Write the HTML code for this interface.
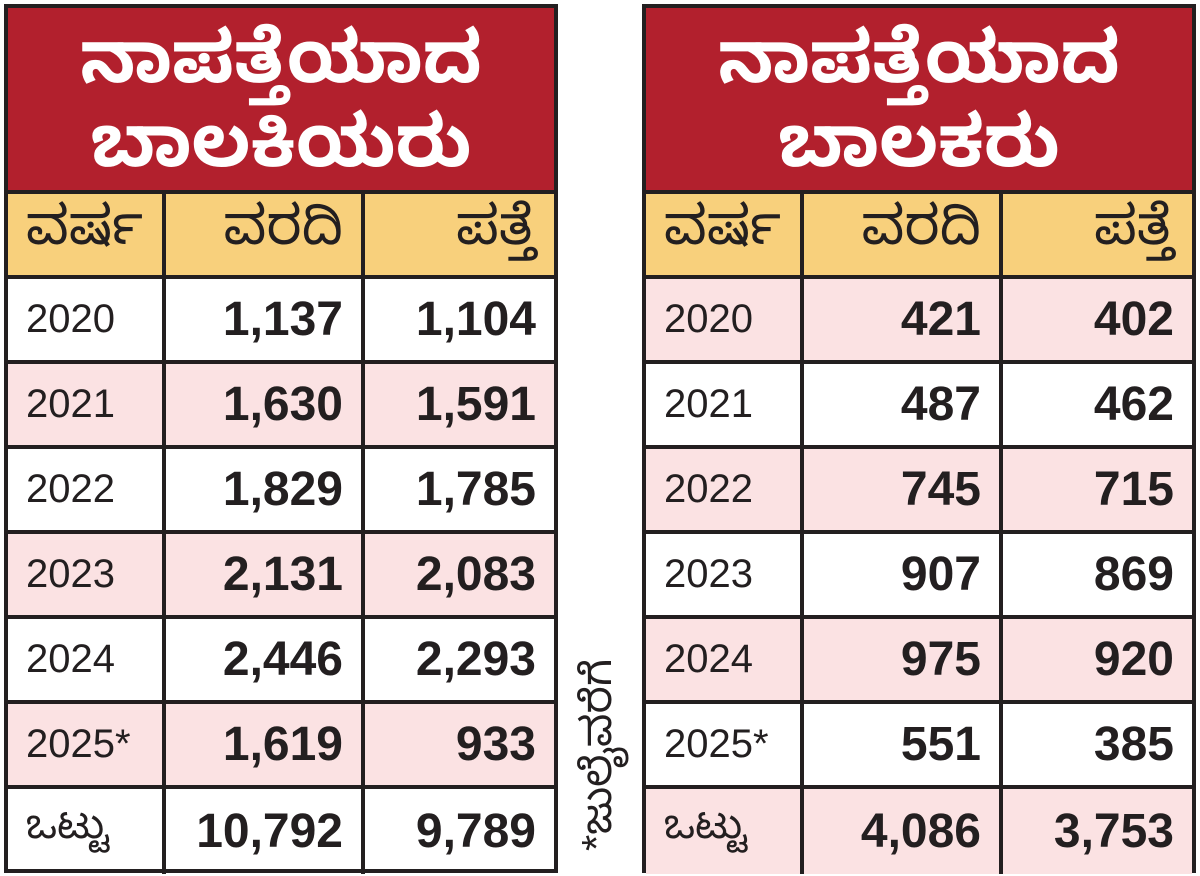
<!DOCTYPE html>
<html><head><meta charset="utf-8"><style>
body{margin:0;width:1200px;height:876px;background:#fff;position:relative;overflow:hidden;font-family:"Liberation Sans","Noto Sans Kannada",sans-serif}
.t{position:absolute;top:4px;border:4px solid #231f20;box-sizing:border-box;height:869px}
.title{height:186px;background:#b2202d;color:#fff;font-size:72px;font-weight:bold;text-align:center;line-height:84px;padding-top:8px;box-sizing:border-box;border-bottom:4px solid #231f20}
.row{display:flex;height:85px;border-bottom:4px solid #231f20;box-sizing:border-box}
.row:last-child{border-bottom:none}
.row div{box-sizing:border-box;border-right:4px solid #231f20;display:flex;align-items:center;font-size:48px;font-weight:bold;color:#231f20;justify-content:flex-end;padding-right:18px}
.row div:last-child{border-right:none}
.row div:first-child{justify-content:flex-start;padding-left:18px;font-weight:normal;font-size:40px}
.h{background:#f8d07c}.h div{font-weight:normal!important;font-size:54px!important}
.p{background:#fbe2e3}
.c1{width:158px}.c2{width:199px}.c3{flex:1}
.note{position:absolute;left:563px;top:640px;width:80px;height:230px;font-size:42px;color:#231f20;transform:rotate(-90deg);transform-origin:center;white-space:nowrap;display:flex;align-items:center;justify-content:center}
</style></head><body>
<div class="t" style="left:4px;width:554px">
<div class="title">ನಾಪತ್ತೆಯಾದ<br>ಬಾಲಕಿಯರು</div>
<div class="row h"><div class="c1">ವರ್ಷ</div><div class="c2">ವರದಿ</div><div class="c3">ಪತ್ತೆ</div></div>
<div class="row"><div class="c1">2020</div><div class="c2">1,137</div><div class="c3">1,104</div></div>
<div class="row p"><div class="c1">2021</div><div class="c2">1,630</div><div class="c3">1,591</div></div>
<div class="row"><div class="c1">2022</div><div class="c2">1,829</div><div class="c3">1,785</div></div>
<div class="row p"><div class="c1">2023</div><div class="c2">2,131</div><div class="c3">2,083</div></div>
<div class="row"><div class="c1">2024</div><div class="c2">2,446</div><div class="c3">2,293</div></div>
<div class="row p"><div class="c1">2025*</div><div class="c2">1,619</div><div class="c3">933</div></div>
<div class="row"><div class="c1">ಒಟ್ಟು</div><div class="c2">10,792</div><div class="c3">9,789</div></div>
</div>
<div class="note">*ಜುಲೈವರೆಗೆ</div>
<div class="t" style="left:642px;width:554px">
<div class="title">ನಾಪತ್ತೆಯಾದ<br>ಬಾಲಕರು</div>
<div class="row h"><div class="c1">ವರ್ಷ</div><div class="c2">ವರದಿ</div><div class="c3">ಪತ್ತೆ</div></div>
<div class="row p"><div class="c1">2020</div><div class="c2">421</div><div class="c3">402</div></div>
<div class="row"><div class="c1">2021</div><div class="c2">487</div><div class="c3">462</div></div>
<div class="row p"><div class="c1">2022</div><div class="c2">745</div><div class="c3">715</div></div>
<div class="row"><div class="c1">2023</div><div class="c2">907</div><div class="c3">869</div></div>
<div class="row p"><div class="c1">2024</div><div class="c2">975</div><div class="c3">920</div></div>
<div class="row"><div class="c1">2025*</div><div class="c2">551</div><div class="c3">385</div></div>
<div class="row p"><div class="c1">ಒಟ್ಟು</div><div class="c2">4,086</div><div class="c3">3,753</div></div>
</div>
</body></html>
